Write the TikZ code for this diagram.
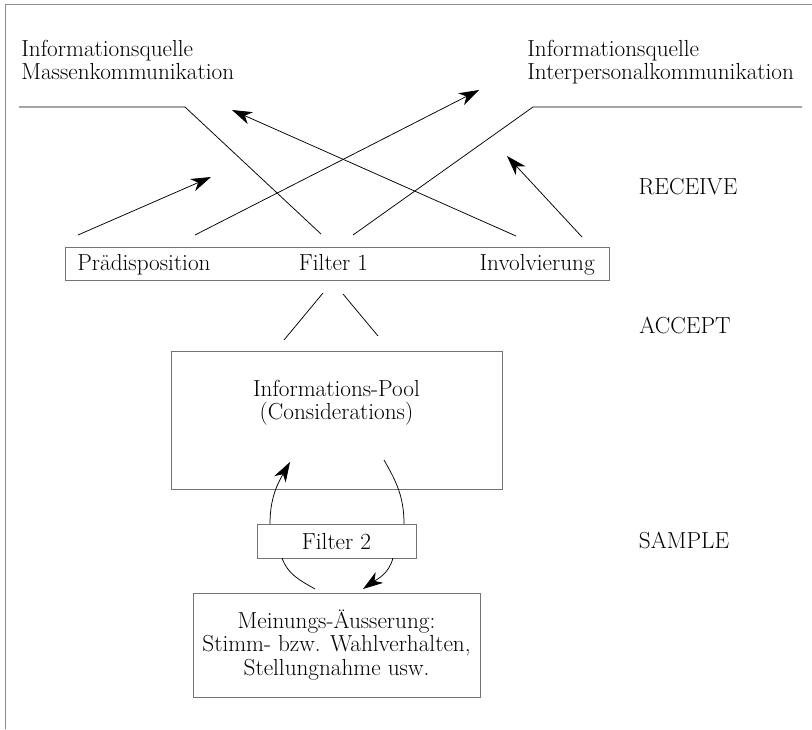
\documentclass[tikz,border=0pt]{standalone}
\usetikzlibrary{arrows.meta}

\tikzset{
  lbl/.style={font=\fontsize{23.2}{23.2}\selectfont, inner sep=0pt},
  boxframe/.style={draw=black!55, line width=1pt, inner sep=0pt},
  arr/.style={-{Stealth[length=20pt,width=13pt,inset=6pt]}},
}

\begin{document}
\begin{tikzpicture}[x=1pt,y=-1pt,line width=0.75pt]
\useasboundingbox (0,0) rectangle (812,729);
\draw[black!45,line width=1pt] (5,729) -- (5,4) -- (812,4);

% sources
\node[lbl,anchor=north west,align=left] (massen) at (21,40) {Informationsquelle\\Massenkommunikation};
\node[lbl,anchor=north west,align=left] (interp) at (527,40) {Informationsquelle\\Interpersonalkommunikation};

\draw (19,107) -- (185,107) -- (321,234);
\draw (353,235) -- (533,107) -- (802,107);

\draw[arr] (78,235) -- (211,177);
\draw[arr] (195,235) -- (479,90);
\draw[arr] (516,236) -- (232,110);
\draw[arr] (582,237) -- (507,156);

% stages
\node[lbl,anchor=base] (receive) at (688,194) {RECEIVE};
\node[lbl,anchor=base] (accept) at (685,333) {ACCEPT};
\node[lbl,anchor=base] (sample) at (684,548) {SAMPLE};

% filter 1
\node[boxframe,minimum width=544pt,minimum height=33pt] (filt1) at (337,263.5) {};
\node[lbl,anchor=base west] (praed) at (77,270) {Prädisposition};
\node[lbl,anchor=base] (filtname) at (333.5,270) {Filter 1};
\node[lbl,anchor=base east] (involv) at (595,270) {Involvierung};

\draw (323,293) -- (284,340);
\draw (343,294) -- (378,336);

% pool
\node[boxframe,minimum width=331pt,minimum height=138pt] (pool) at (336.5,420) {};
\node[lbl,align=center] (pooltext) at (336.5,403) {Informations-Pool\\(Considerations)};

% filter 2
\node[boxframe,minimum width=159pt,minimum height=34pt] (filt2) at (336.5,541) {};
\node[lbl,anchor=base] (filt2name) at (336.5,549) {Filter 2};

% opinion
\node[boxframe,lbl,minimum width=287pt,minimum height=104pt,align=center] (meinung) at (336.5,645)
  {Meinungs-Äusserung:\\Stimm- bzw. Wahlverhalten,\\Stellungnahme usw.};

\coordinate (upl) at (270,524);
\coordinate (upltip) at (290,462);
\coordinate (uprs) at (384,460);
\coordinate (upr) at (404,524);
\coordinate (lol) at (282,558);
\coordinate (lole) at (315,589);
\coordinate (lor) at (393,558);
\coordinate (lortip) at (363,589);

\draw[arr] (upl) to[out=90,in=240] (upltip);
\draw (uprs) to[out=-60,in=90] (upr);
\draw (lol) to[out=-70,in=150] (lole);
\draw[arr] (lor) to[out=-105,in=35] (lortip);

\end{tikzpicture}
\end{document}
